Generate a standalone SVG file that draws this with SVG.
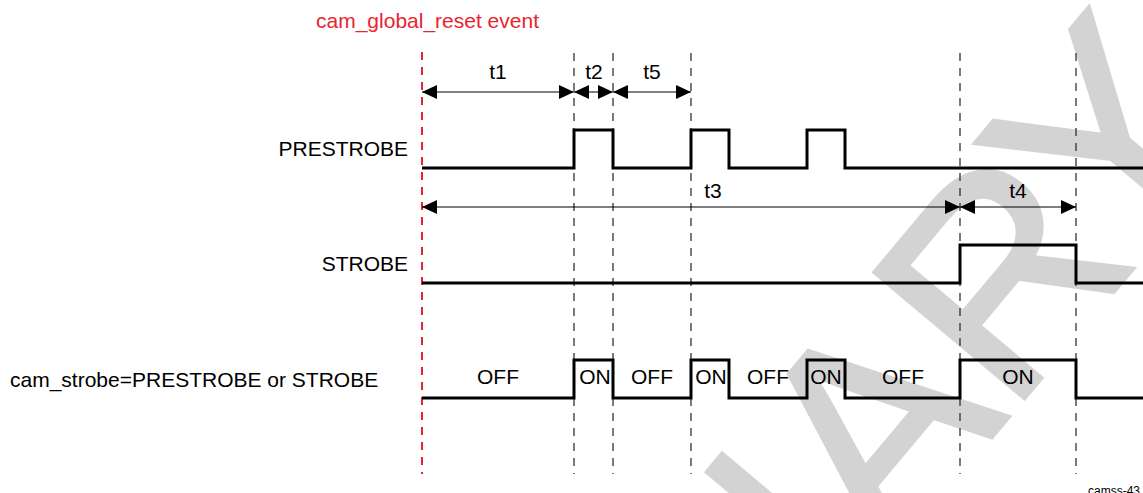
<svg xmlns="http://www.w3.org/2000/svg" width="1143" height="493" viewBox="0 0 1143 493">
<style>
text{font-family:"Liberation Sans",Arial,sans-serif;font-size:21px;fill:#000}
.red{fill:#e8252e}
.wm{fill:#d3d3d3;stroke:#d3d3d3;stroke-width:4;font-size:285px}
.sig{fill:none;stroke:#000;stroke-width:3;stroke-linejoin:miter}
.grid{stroke:#222;stroke-width:1.2;stroke-dasharray:8 7}
.rgrid{stroke:#e8252e;stroke-width:2;stroke-dasharray:8 7}
.dim{stroke:#000;stroke-width:1;marker-start:url(#ah);marker-end:url(#ah)}
.mid{text-anchor:middle}
.end{text-anchor:end}
</style>
<defs>
<marker id="ah" markerUnits="userSpaceOnUse" markerWidth="15" markerHeight="14" refX="15" refY="7" orient="auto-start-reverse" viewBox="0 0 15 14">
<path d="M0,0 L15,7 L0,14 z" fill="#000"/>
</marker>
</defs>
<rect width="1143" height="493" fill="#fff"/>
<text class="wm" transform="translate(22,1593) rotate(-50)">PRELIMINAR<tspan dx="-20" dy="-6">Y</tspan></text>
<g id="gridlines">
<line class="rgrid" x1="422" y1="52" x2="422" y2="474"/>
<line class="grid" x1="574" y1="53" x2="574" y2="474"/>
<line class="grid" x1="613" y1="53" x2="613" y2="474"/>
<line class="grid" x1="691" y1="53" x2="691" y2="474"/>
<line class="grid" x1="960" y1="53" x2="960" y2="474"/>
<line class="grid" x1="1076" y1="53" x2="1076" y2="474"/>
</g>
<g id="labels">
<text class="red" x="316" y="28">cam_global_reset event</text>
<text class="end" x="408" y="156">PRESTROBE</text>
<text class="end" x="408" y="271">STROBE</text>
<text x="10" y="387">cam_strobe=PRESTROBE or STROBE</text>
</g>
<g id="prestrobe">
<path class="sig" d="M422,168 H574 V130 H613 V168 H691 V130 H729 V168 H807 V130 H845 V168 H1143"/>
</g>
<g id="strobe">
<path class="sig" d="M422,283 H960 V245 H1076 V283 H1143"/>
</g>
<g id="cam_strobe">
<path class="sig" d="M422,398 H574 V360 H613 V398 H691 V360 H729 V398 H807 V360 H845 V398 H960 V360 H1076 V398 H1143"/>
<text class="mid" x="498" y="384">OFF</text>
<text class="mid" x="595" y="384">ON</text>
<text class="mid" x="652" y="384">OFF</text>
<text class="mid" x="711" y="384">ON</text>
<text class="mid" x="768" y="384">OFF</text>
<text class="mid" x="826" y="384">ON</text>
<text class="mid" x="903" y="384">OFF</text>
<text class="mid" x="1018" y="384">ON</text>
</g>
<g id="connectors">
<line class="dim" x1="422" y1="92" x2="574" y2="92"/>
<line class="dim" x1="574" y1="92" x2="613" y2="92"/>
<line class="dim" x1="613" y1="92" x2="691" y2="92"/>
<line class="dim" x1="422" y1="207" x2="960" y2="207"/>
<line class="dim" x1="960" y1="207" x2="1076" y2="207"/>
<text class="mid" x="498" y="79">t1</text>
<text class="mid" x="594" y="79">t2</text>
<text class="mid" x="652" y="79">t5</text>
<text class="mid" x="713" y="198">t3</text>
<text class="mid" x="1018" y="198">t4</text>
</g>
<text x="1088" y="495" style="font-size:12px">camss-43</text>
</svg>
